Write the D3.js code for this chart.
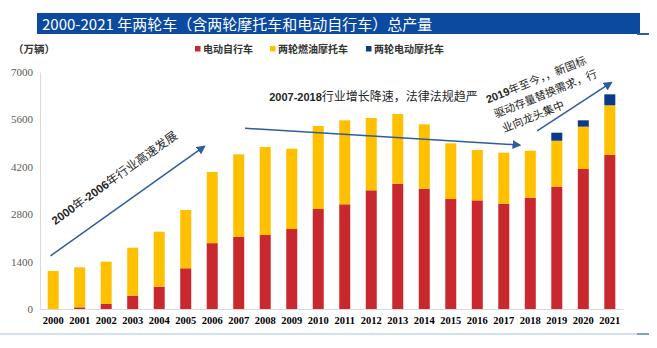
<!DOCTYPE html>
<html>
<head>
<meta charset="utf-8">
<script src="https://cdn.jsdelivr.net/npm/d3@7"></script>
<style>
  body { margin: 0; background: #fff; }
  svg { display: block; }
</style>
</head>
<body>
<div id="chartContainer"></div>
<script>
// data (万辆)
var years = ["2000","2001","2002","2003","2004","2005","2006","2007","2008","2009","2010",
             "2011","2012","2013","2014","2015","2016","2017","2018","2019","2020","2021"];
var ebike = [0, 50, 148, 393, 659, 1202, 1945, 2135, 2185, 2363, 2953,
             3092, 3506, 3701, 3553, 3248, 3209, 3110, 3288, 3613, 4135, 4548];
var fuelMoto = [1122, 1181, 1249, 1417, 1624, 1722, 2101, 2433, 2599, 2371, 2452,
                2481, 2135, 2058, 1902, 1645, 1487, 1507, 1388, 1357, 1251, 1468];
var eMoto = [0, 0, 0, 0, 0, 0, 0, 0, 0, 0, 0,
             0, 0, 0, 0, 0, 0, 0, 0, 237, 187, 325];
var seriesNames = ["电动自行车", "两轮燃油摩托车", "两轮电动摩托车"];
var yTicks = [0, 1400, 2800, 4200, 5600, 7000];

var colors = ["#C8282E", "#FFC000", "#0B3A8A"];
var arrowColor = "#2F5C9E";

var width = 657, height = 348;
var svg = d3.select("#chartContainer").append("svg")
    .attr("width", width).attr("height", height);

// title bar
svg.append("rect").attr("x", 37).attr("y", 13).attr("width", 603).attr("height", 21)
    .attr("fill", "#0B4A9E");
svg.append("rect").attr("x", 637).attr("y", 33).attr("width", 12).attr("height", 2)
    .attr("fill", "#2F5C9E");
svg.append("text").attr("x", 42).attr("y", 29.5)
    .attr("fill", "#fff")
    .style("font-family", "'Noto Sans CJK SC', 'Liberation Sans', sans-serif")
    .style("font-size", "15px")
    .text("2000-2021 年两轮车（含两轮摩托车和电动自行车）总产量");

// bottom rule
svg.append("line").attr("x1", 0).attr("x2", 637).attr("y1", 334).attr("y2", 334)
    .attr("stroke", "#A9C2E2").attr("stroke-width", 1);
svg.append("line").attr("x1", 637).attr("x2", 649).attr("y1", 334).attr("y2", 334)
    .attr("stroke", "#4F7FC0").attr("stroke-width", 1.5);

// scales
var x = d3.scaleBand().domain(years).range([40, 623]).paddingInner(0.585).paddingOuter(0.29);
var y = d3.scaleLinear().domain([0, 7000]).range([309, 72]);

// stack
var rows = years.map(function(yr, i) {
    return {year: yr, a: ebike[i], b: fuelMoto[i], c: eMoto[i]};
});
var stacked = d3.stack().keys(["a", "b", "c"])(rows);

svg.append("g").selectAll("g")
    .data(stacked)
    .enter().append("g")
    .attr("fill", function(d, i) { return colors[i]; })
    .selectAll("rect")
    .data(function(d) { return d; })
    .enter().append("rect")
    .attr("x", function(d) { return x(d.data.year); })
    .attr("width", x.bandwidth())
    .attr("y", function(d) { return y(d[1]); })
    .attr("height", function(d) { return y(d[0]) - y(d[1]); });

// axes
var yAxis = svg.append("g").attr("transform", "translate(40,0)")
    .call(d3.axisLeft(y).tickValues(yTicks).tickFormat(d3.format("d")).tickSize(0).tickPadding(7));
yAxis.select(".domain").attr("stroke", "#D9D9D9");
yAxis.selectAll("text")
    .style("font-family", "'Liberation Serif', serif")
    .style("font-size", "11px")
    .attr("fill", "#595959");

var xAxis = svg.append("g").attr("transform", "translate(0,309)")
    .call(d3.axisBottom(x).tickSize(0).tickPadding(8));
xAxis.select(".domain").attr("stroke", "#D9D9D9");
xAxis.selectAll("text")
    .style("font-family", "'Liberation Serif', serif")
    .style("font-size", "10.5px")
    .style("font-weight", "bold")
    .attr("fill", "#000");

// unit
svg.append("text").attr("x", 13).attr("y", 53)
    .style("font-family", "'Noto Sans CJK SC', serif")
    .style("font-size", "10.5px").style("font-weight", "bold")
    .attr("fill", "#333")
    .text("（万辆）");

// legend
var legendX = [195, 270, 366];
var legend = svg.append("g").selectAll("g")
    .data(seriesNames)
    .enter().append("g")
    .attr("transform", function(d, i) { return "translate(" + legendX[i] + ",49)"; });
legend.append("rect").attr("x", 0).attr("y", -3).attr("width", 5.5).attr("height", 5.5)
    .attr("fill", function(d, i) { return colors[i]; });
legend.append("text").attr("x", 8).attr("y", 3.5)
    .style("font-family", "'Noto Sans CJK SC', serif")
    .style("font-size", "10px").style("font-weight", "bold")
    .attr("fill", "#333")
    .text(function(d) { return d; });

// annotations: positions in (year index, value)
var step = x.step();
function px(idx) { return x(years[0]) + x.bandwidth() / 2 + idx * step; }

svg.append("defs").append("marker")
    .attr("id", "arrowhead")
    .attr("viewBox", "0 0 10 10").attr("refX", 8).attr("refY", 5)
    .attr("markerWidth", 6).attr("markerHeight", 6)
    .attr("orient", "auto")
    .append("path").attr("d", "M0,0 L10,5 L0,10 z").attr("fill", arrowColor);

var arrows = [
    [-0.1, 1570, 5.7, 4800],
    [7.24, 5337, 17.6, 4843],
    [18.26, 5258, 21.05, 6683]
];
svg.append("g").selectAll("line")
    .data(arrows)
    .enter().append("line")
    .attr("x1", function(d) { return px(d[0]); })
    .attr("y1", function(d) { return y(d[1]); })
    .attr("x2", function(d) { return px(d[2]); })
    .attr("y2", function(d) { return y(d[3]); })
    .attr("stroke", arrowColor).attr("stroke-width", 1.5)
    .attr("marker-end", "url(#arrowhead)");

var cjk = "'Noto Sans CJK SC', sans-serif";
var num = "'Liberation Sans', sans-serif";

// annotation 1
var a1 = svg.append("text")
    .attr("transform", "translate(" + px(2.4) + "," + y(3770) + ") rotate(-35.5)")
    .attr("text-anchor", "middle")
    .style("font-family", cjk).style("font-size", "12px")
    .attr("fill", "#262626");
a1.append("tspan").style("font-family", num).style("font-weight", "bold").style("font-size", "11.5px").text("2000");
a1.append("tspan").text("年");
a1.append("tspan").style("font-family", num).style("font-weight", "bold").style("font-size", "11.5px").text("-2006");
a1.append("tspan").text("年行业高速发展");

// annotation 2
var a2 = svg.append("text")
    .attr("x", px(8.15)).attr("y", y(6150))
    .style("font-family", cjk).style("font-size", "12px")
    .attr("fill", "#262626");
a2.append("tspan").style("font-family", num).style("font-weight", "bold").style("font-size", "11px").text("2007-2018");
a2.append("tspan").text("行业增长降速，法律法规趋严");

// annotation 3
var a3 = svg.append("g")
    .attr("transform", "translate(" + px(16.4) + "," + y(6070) + ") rotate(-22)")
    .style("font-family", cjk).style("font-size", "11px")
    .attr("fill", "#262626");
var l1 = a3.append("text").attr("x", 0).attr("y", 0);
l1.append("tspan").style("font-family", num).style("font-weight", "bold").text("2019");
l1.append("tspan").text("年至今，，新国标");
a3.append("text").attr("x", 2).attr("y", 16.5).text("驱动存量替换需求，行");
a3.append("text").attr("x", 4).attr("y", 33).text("业向龙头集中");
</script>
</body>
</html>
